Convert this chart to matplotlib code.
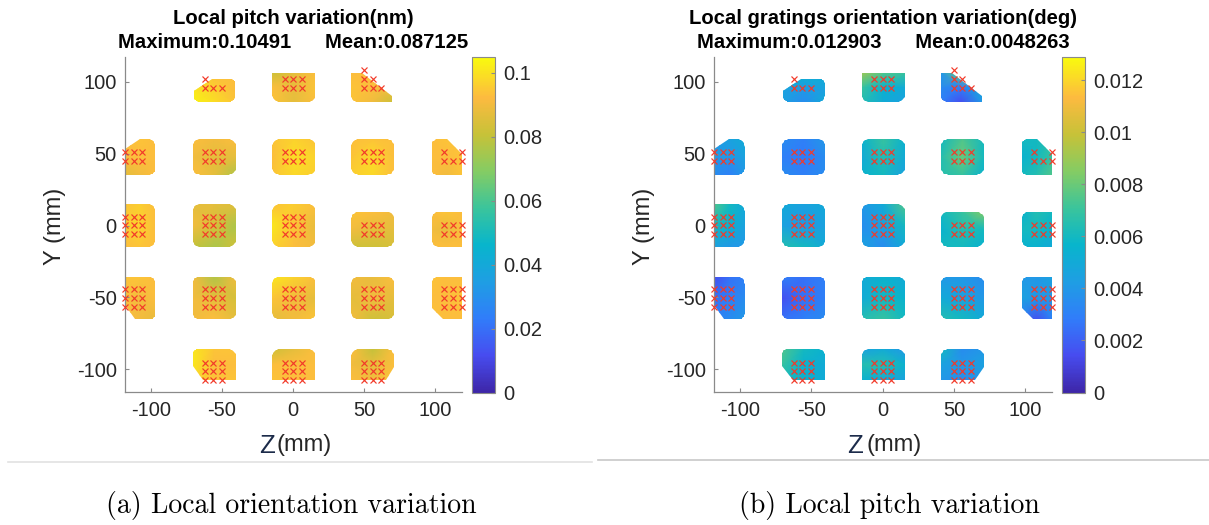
import numpy as np
import matplotlib
matplotlib.use("Agg")
import matplotlib.pyplot as plt
from matplotlib.colors import LinearSegmentedColormap, Normalize
from matplotlib.patches import Polygon
from matplotlib.lines import Line2D
import matplotlib.cm as cm

plt.rcParams["axes.unicode_minus"] = False
nan = np.nan

# ---------------- data ----------------
pitch_title = "Local pitch variation(nm)"
pitch_stats = "Maximum:0.10491      Mean:0.087125"
pitch_max = 0.10491
pitch_cticks = [0, 0.02, 0.04, 0.06, 0.08, 0.1]
pitch_clabels = ["0", "0.02", "0.04", "0.06", "0.08", "0.1"]

orient_title = "Local gratings orientation variation(deg)"
orient_stats = "Maximum:0.012903      Mean:0.0048263"
orient_max = 0.012903
orient_cticks = [0, 0.002, 0.004, 0.006, 0.008, 0.010, 0.012]
orient_clabels = ["0", "0.002", "0.004", "0.006", "0.008", "0.01", "0.012"]

axis_ticks = [-100, -50, 0, 50, 100]
xlabel_z = "Z"
xlabel_unit = "(mm)"
ylabel_text = "Y (mm)"
caption_a = "(a) Local orientation variation"
caption_b = "(b) Local pitch variation"

# local pitch variation, 3 sub-rows per wafer row, 3 sub-columns per patch
# patch columns: Z = -112, -55, 0, 55, 112
pitch_y100 = [
    [nan, nan, nan, 0.099, 0.094, 0.093, 0.082, 0.087, 0.093, 0.093, 0.093, 0.093, nan, nan, nan],
    [nan, nan, nan, 0.101, 0.097, 0.093, 0.093, 0.088, 0.094, 0.094, 0.093, 0.090, nan, nan, nan],
    [nan, nan, nan, 0.103, 0.099, 0.094, 0.094, 0.087, 0.093, 0.094, 0.090, 0.082, nan, nan, nan],
]
pitch_y50 = [
    [0.093, 0.094, 0.093, 0.093, 0.090, 0.093, 0.094, 0.097, 0.094, 0.093, 0.094, 0.093, 0.093, 0.094, 0.093],
    [0.093, 0.093, 0.093, 0.090, 0.087, 0.087, 0.093, 0.099, 0.097, 0.094, 0.098, 0.093, 0.093, 0.093, 0.094],
    [0.087, 0.090, 0.093, 0.093, 0.087, 0.077, 0.094, 0.098, 0.096, 0.096, 0.098, 0.093, 0.093, 0.090, 0.094],
]
pitch_y0 = [
    [0.094, 0.096, 0.093, 0.087, 0.087, 0.086, 0.094, 0.096, 0.093, 0.094, 0.093, 0.090, 0.093, 0.094, 0.093],
    [0.096, 0.097, 0.093, 0.090, 0.084, 0.076, 0.101, 0.094, 0.088, 0.090, 0.087, 0.087, 0.090, 0.088, 0.093],
    [0.093, 0.094, 0.093, 0.080, 0.076, 0.082, 0.097, 0.093, 0.090, 0.082, 0.082, 0.084, 0.093, 0.093, 0.093],
]
pitch_ym50 = [
    [0.094, 0.094, 0.093, 0.090, 0.077, 0.090, 0.101, 0.097, 0.093, 0.090, 0.088, 0.093, 0.094, 0.093, 0.093],
    [0.093, 0.090, 0.093, 0.090, 0.087, 0.084, 0.094, 0.090, 0.087, 0.087, 0.090, 0.087, 0.093, 0.093, 0.094],
    [0.093, 0.090, 0.088, 0.090, 0.093, 0.087, 0.087, 0.090, 0.094, 0.090, 0.082, 0.084, 0.094, 0.093, 0.093],
]
pitch_ym100 = [
    [nan, nan, nan, 0.101, 0.094, 0.094, 0.082, 0.087, 0.093, 0.093, 0.080, 0.093, nan, nan, nan],
    [nan, nan, nan, 0.101, 0.093, 0.093, 0.093, 0.093, 0.093, 0.090, 0.087, 0.093, nan, nan, nan],
    [nan, nan, nan, 0.097, 0.094, 0.094, 0.094, 0.093, 0.093, 0.093, 0.090, 0.094, nan, nan, nan],
]

# local gratings orientation variation
orient_y100 = [
    [nan, nan, nan, 0.0055, 0.0050, 0.0050, 0.0090, 0.0075, 0.0070, 0.0040, 0.0080, 0.0110, nan, nan, nan],
    [nan, nan, nan, 0.0045, 0.0040, 0.0045, 0.0070, 0.0055, 0.0050, 0.0035, 0.0030, 0.0050, nan, nan, nan],
    [nan, nan, nan, 0.0045, 0.0035, 0.0050, 0.0065, 0.0050, 0.0045, 0.0030, 0.0015, 0.0040, nan, nan, nan],
]
orient_y50 = [
    [0.0040, 0.0045, 0.0050, 0.0035, 0.0030, 0.0040, 0.0055, 0.0070, 0.0055, 0.0060, 0.0075, 0.0060, 0.0060, 0.0060, 0.0065],
    [0.0040, 0.0040, 0.0045, 0.0030, 0.0028, 0.0035, 0.0050, 0.0065, 0.0050, 0.0065, 0.0080, 0.0060, 0.0055, 0.0060, 0.0070],
    [0.0035, 0.0030, 0.0040, 0.0035, 0.0030, 0.0035, 0.0055, 0.0060, 0.0045, 0.0065, 0.0070, 0.0055, 0.0060, 0.0065, 0.0075],
]
orient_y0 = [
    [0.0075, 0.0060, 0.0050, 0.0050, 0.0045, 0.0050, 0.0040, 0.0050, 0.0075, 0.0060, 0.0070, 0.0085, 0.0055, 0.0065, 0.0060],
    [0.0060, 0.0055, 0.0045, 0.0045, 0.0040, 0.0045, 0.0035, 0.0045, 0.0060, 0.0055, 0.0065, 0.0060, 0.0060, 0.0060, 0.0055],
    [0.0045, 0.0040, 0.0040, 0.0065, 0.0060, 0.0050, 0.0045, 0.0035, 0.0050, 0.0060, 0.0060, 0.0055, 0.0055, 0.0055, 0.0050],
]
orient_ym50 = [
    [0.0015, 0.0025, 0.0030, 0.0030, 0.0025, 0.0030, 0.0050, 0.0055, 0.0050, 0.0040, 0.0040, 0.0035, 0.0040, 0.0040, 0.0045],
    [0.0025, 0.0030, 0.0035, 0.0015, 0.0025, 0.0030, 0.0050, 0.0060, 0.0055, 0.0050, 0.0045, 0.0040, 0.0045, 0.0040, 0.0040],
    [0.0030, 0.0035, 0.0040, 0.0025, 0.0030, 0.0035, 0.0065, 0.0070, 0.0060, 0.0065, 0.0060, 0.0050, 0.0030, 0.0015, 0.0030],
]
orient_ym100 = [
    [nan, nan, nan, 0.0075, 0.0060, 0.0055, 0.0045, 0.0050, 0.0040, 0.0060, 0.0035, 0.0040, nan, nan, nan],
    [nan, nan, nan, 0.0070, 0.0055, 0.0050, 0.0065, 0.0065, 0.0055, 0.0045, 0.0040, 0.0045, nan, nan, nan],
    [nan, nan, nan, 0.0060, 0.0055, 0.0050, 0.0055, 0.0050, 0.0045, 0.0040, 0.0035, 0.0040, nan, nan, nan],
]

# measured patch outlines (mm): (row, col, z0, z1, y0, y1, corners)
patch_shapes = [
    (0, 1, -70.0, -40.7, 86.3, 101.9, {"bl": ("r", 4), "br": ("r", 4), "tr": ("r", 3), "tl": ("c", 13, 8)}),
    (0, 2, -14.7, 15.7, 86.3, 106.0, {"bl": ("r", 5), "br": ("r", 5)}),
    (0, 3, 40.8, 69.4, 86.3, 106.5, {"bl": ("r", 4), "tr": ("c", 21, 16)}),
    (1, 0, -118.0, -96.8, 35.5, 60.0, {"tl": ("c", 10, 7), "tr": ("r", 5), "br": ("r", 4)}),
    (1, 1, -70.6, -40.2, 35.5, 60.0, {k: ("r", 5) for k in ("bl", "br", "tr", "tl")}),
    (1, 2, -14.7, 15.7, 35.5, 60.0, {k: ("r", 5) for k in ("bl", "br", "tr", "tl")}),
    (1, 3, 40.8, 71.0, 35.5, 60.0, {k: ("r", 5) for k in ("bl", "br", "tr", "tl")}),
    (1, 4, 97.4, 118.5, 35.5, 60.0, {"tl": ("r", 4), "bl": ("r", 3), "tr": ("c", 10, 10)}),
    (2, 0, -118.0, -96.8, -14.8, 14.8, {"tr": ("r", 5), "br": ("r", 5)}),
    (2, 1, -70.6, -40.2, -14.8, 14.8, {k: ("r", 5) for k in ("bl", "br", "tr", "tl")}),
    (2, 2, -14.7, 15.7, -14.8, 14.8, {k: ("r", 5) for k in ("bl", "br", "tr", "tl")}),
    (2, 3, 40.8, 71.0, -14.8, 9.5, {k: ("r", 5) for k in ("bl", "br", "tr", "tl")}),
    (2, 4, 97.4, 118.5, -14.8, 9.5, {"tl": ("r", 5), "bl": ("r", 5)}),
    (3, 0, -118.0, -96.8, -65.4, -35.7, {"tr": ("r", 5), "br": ("r", 4), "bl": ("c", 7, 10)}),
    (3, 1, -70.6, -40.2, -65.4, -35.7, {k: ("r", 5) for k in ("bl", "br", "tr", "tl")}),
    (3, 2, -14.7, 15.7, -65.4, -35.7, {k: ("r", 5) for k in ("bl", "br", "tr", "tl")}),
    (3, 3, 40.8, 71.0, -65.4, -35.7, {k: ("r", 5) for k in ("bl", "br", "tr", "tl")}),
    (3, 4, 97.4, 118.5, -65.4, -35.7, {"tl": ("r", 5), "bl": ("c", 8, 8)}),
    (4, 1, -70.6, -40.2, -107.7, -86.1, {"tl": ("r", 4), "tr": ("r", 5), "bl": ("c", 7.5, 10)}),
    (4, 2, -14.7, 15.7, -107.7, -86.1, {"tl": ("r", 5), "tr": ("r", 5)}),
    (4, 3, 40.8, 71.0, -107.7, -86.1, {"tl": ("r", 5), "tr": ("r", 5), "br": ("c", 6, 9)}),
]

# measurement points (red crosses)
point_cols_z = [[-117.9, -112.0, -106.2], [-62.2, -56.3, -50.3], [-5.9, 0.0, 5.9],
                [49.9, 55.8, 61.7], [106.0, 112.2, 118.5]]
point_rows_y = [[108.4, 101.9, 95.8], [51.2, 44.7], [6.1, 0.1, -5.9],
                [-44.5, -50.5, -56.6], [-95.6, -101.6, -107.7]]
point_patterns = {
    (0, 1): ["...", "x..", "xxx"], (0, 2): ["...", "xxx", "xxx"], (0, 3): ["x..", "xx.", "xxx"],
    (1, 0): ["xxx", "xxx"], (1, 1): ["xxx", "xxx"], (1, 2): ["xxx", "xxx"], (1, 3): ["xxx", "xxx"],
    (1, 4): ["x.x", "xxx"],
    (2, 0): ["xxx", "xxx", "xxx"], (2, 1): ["xxx", "xxx", "xxx"], (2, 2): ["xxx", "xxx", "xxx"],
    (2, 3): ["...", "xxx", "xxx"], (2, 4): ["...", "xxx", "xxx"],
    (3, 0): ["xxx"] * 3, (3, 1): ["xxx"] * 3, (3, 2): ["xxx"] * 3, (3, 3): ["xxx"] * 3, (3, 4): ["xxx"] * 3,
    (4, 1): ["xxx"] * 3, (4, 2): ["xxx"] * 3, (4, 3): ["xxx"] * 3,
}

# ---------------- style ----------------
parula_anchors = [
    (0.00, (0.2422, 0.1504, 0.6603)),
    (0.11, (0.2780, 0.3000, 0.9400)),
    (0.22, (0.1900, 0.4900, 0.9800)),
    (0.33, (0.1200, 0.6200, 0.8900)),
    (0.44, (0.0300, 0.7100, 0.8000)),
    (0.55, (0.2300, 0.7700, 0.6100)),
    (0.66, (0.5200, 0.8000, 0.3900)),
    (0.77, (0.7800, 0.7600, 0.2200)),
    (0.88, (0.9900, 0.7300, 0.2500)),
    (1.00, (0.9763, 0.9831, 0.0538)),
]
parula = LinearSegmentedColormap.from_list("parula", parula_anchors, N=256)

FONT = "Liberation Sans"
TXT = "#262626"
AXC = "#8a8a8a"
W, H = 1209, 525

fig = plt.figure(figsize=(W / 100, H / 100), dpi=100)


def fx(px):
    return px / W


def fy(py):
    return 1 - py / H


def outline(z0, z1, y0, y1, corners):
    pts = []
    spec = [("bl", z0, y0, 1, 1, 180), ("br", z1, y0, -1, 1, 270),
            ("tr", z1, y1, -1, -1, 0), ("tl", z0, y1, 1, -1, 90)]
    for key, cx, cy, sx, sy, a0 in spec:
        c = corners.get(key)
        if c is None:
            pts.append((cx, cy))
        elif c[0] == "r":
            r = c[1]
            ox, oy = cx + sx * r, cy + sy * r
            for a in np.linspace(np.radians(a0), np.radians(a0 + 90), 10):
                pts.append((ox + r * np.cos(a), oy + r * np.sin(a)))
        else:
            dx, dy = c[1], c[2]
            if key in ("bl", "tr"):
                pts += [(cx, cy + sy * dy), (cx + sx * dx, cy)]
            else:
                pts += [(cx + sx * dx, cy), (cx, cy + sy * dy)]
    return np.array(pts)


def draw_panel(ax_px, cax_px, rows, vmax, title, stats, cticks, clabels, xlab_px):
    left, top, right, bottom = ax_px
    ax = fig.add_axes([fx(left), fy(bottom), fx(right - left), (bottom - top) / H])
    norm = Normalize(0, vmax)
    for (r, c, z0, z1, y0, y1, corners) in patch_shapes:
        V = np.array(rows[r])[:, 3 * c:3 * c + 3][::-1]
        Z, Y = np.meshgrid(np.linspace(z0, z1, 3), np.linspace(y0, y1, 3))
        mesh = ax.pcolormesh(Z, Y, V, shading="gouraud", cmap=parula, norm=norm)
        poly = Polygon(outline(z0, z1, y0, y1, corners), closed=True,
                       transform=ax.transData, facecolor="none", edgecolor="none")
        mesh.set_clip_path(poly)
    # measurement points
    mz, my = [], []
    for (r, c), pattern in point_patterns.items():
        ys = point_rows_y[r][-len(pattern):]
        for yv, line in zip(ys, pattern):
            for k, ch in enumerate(line):
                if ch == "x":
                    mz.append(point_cols_z[c][k])
                    my.append(yv)
    ax.plot(mz, my, linestyle="none", marker="x", color="#f23a2a",
            markersize=4.3, markeredgewidth=0.85, clip_on=False, zorder=5)
    ax.set_xlim(-118.2, 118.5)
    ax.set_ylim(-116.2, 117.6)
    ax.set_xticks(axis_ticks)
    ax.set_yticks(axis_ticks)
    for s in ("top", "right"):
        ax.spines[s].set_visible(False)
    for s in ("left", "bottom"):
        ax.spines[s].set_color(AXC)
        ax.spines[s].set_linewidth(0.9)
    ax.tick_params(direction="in", length=3, width=0.8, color=AXC,
                   labelsize=14.5, labelcolor=TXT, pad=6)
    for lab in ax.get_xticklabels() + ax.get_yticklabels():
        lab.set_fontfamily(FONT)
    cx = (left + right) / 2
    fig.text(fx(cx), fy(18), title, ha="center", va="center", fontsize=14.6,
             fontweight="bold", family=FONT, color="black")
    fig.text(fx(cx), fy(43), stats, ha="center", va="center", fontsize=14.6,
             fontweight="bold", family=FONT, color="black")
    # y label
    fig.text(fx(left - 70), fy((top + bottom) / 2 + 2), ylabel_text, rotation=90,
             ha="center", va="center", fontsize=17, family=FONT, color=TXT)
    # x label: Z + (mm)
    zc, uc = xlab_px
    fig.text(fx(zc), fy(446), xlabel_z, ha="center", va="center", fontsize=18.5,
             family=FONT, color="#1c2b4a")
    fig.text(fx(uc), fy(445), xlabel_unit, ha="center", va="center", fontsize=17,
             family=FONT, color=TXT)
    # colorbar
    cl, ct, cr, cb = cax_px
    cax = fig.add_axes([fx(cl), fy(cb), fx(cr - cl), (cb - ct) / H])
    sm = cm.ScalarMappable(norm=norm, cmap=parula)
    cbar = fig.colorbar(sm, cax=cax)
    cbar.set_ticks(cticks)
    cbar.set_ticklabels(clabels)
    cbar.outline.set_edgecolor(AXC)
    cbar.outline.set_linewidth(0.8)
    cax.tick_params(direction="in", length=3, width=0.8, color=AXC,
                    labelsize=14.5, labelcolor=TXT, pad=6)
    for lab in cax.get_yticklabels():
        lab.set_fontfamily(FONT)
    return ax


pitch_rows = [pitch_y100, pitch_y50, pitch_y0, pitch_ym50, pitch_ym100]
orient_rows = [orient_y100, orient_y50, orient_y0, orient_ym50, orient_ym100]

draw_panel((125, 56.7, 461.7, 392.3), (472, 57, 495, 392.5), pitch_rows, pitch_max,
           pitch_title, pitch_stats, pitch_cticks, pitch_clabels, (266.5, 304.5))
draw_panel((714, 56.7, 1051.7, 392.3), (1062, 57, 1085, 392.5), orient_rows, orient_max,
           orient_title, orient_stats, orient_cticks, orient_clabels, (855, 894))

# separator lines under each panel
fig.add_artist(Line2D([fx(8), fx(592)], [fy(461.5), fy(461.5)], color="#e2e2e2",
                      linewidth=1.2, transform=fig.transFigure))
fig.add_artist(Line2D([fx(598), fx(1209)], [fy(459.5), fy(459.5)], color="#c8c8c8",
                      linewidth=1.2, transform=fig.transFigure))

# captions
fig.text(fx(291.5), fy(505), caption_a, ha="center", va="center", fontsize=20,
         family="cmr10", color="black")
fig.text(fx(889), fy(505), caption_b, ha="center", va="center", fontsize=20,
         family="cmr10", color="black")

fig.savefig("out.png", dpi=100, facecolor="white")
